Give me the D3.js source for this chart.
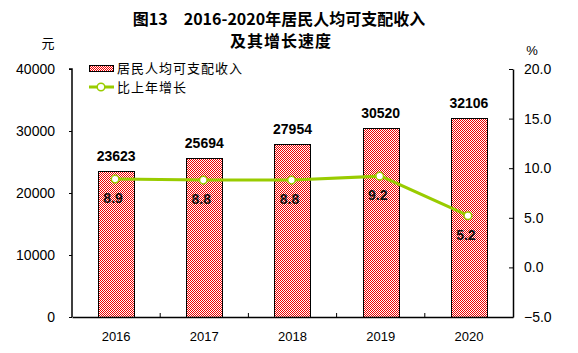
<!DOCTYPE html>
<html>
<head>
<meta charset="utf-8">
<script src="https://cdn.jsdelivr.net/npm/d3@7"></script>
<style>
  body { margin: 0; background: #fff; }
  text { font-family: Arial, "Liberation Sans", sans-serif; }
  .cjk { font-family: "Noto Sans CJK SC", sans-serif; }
</style>
</head>
<body>
<script>
const years = ["2016", "2017", "2018", "2019", "2020"];
const income = [23623, 25694, 27954, 30520, 32106];
const growth = [8.9, 8.8, 8.8, 9.2, 5.2];
const leftTicks = [0, 10000, 20000, 30000, 40000];
const rightTicks = [-5, 0, 5, 10, 15, 20];

const width = 578;
const height = 353;
const green = "#99cc00";

const svg = d3.select("body").append("svg")
  .attr("width", width)
  .attr("height", height);

// 1px red/white checker, as in the original
const defs = svg.append("defs");
const pat = defs.append("pattern")
  .attr("id", "check")
  .attr("width", 2).attr("height", 2)
  .attr("patternUnits", "userSpaceOnUse");
pat.append("rect").attr("width", 2).attr("height", 2).attr("fill", "#fff");
pat.append("rect").attr("width", 1).attr("height", 1).attr("fill", "#f00000");
pat.append("rect").attr("x", 1).attr("y", 1).attr("width", 1).attr("height", 1).attr("fill", "#f00000");

const x = d3.scaleBand().domain(years).range([72, 513]);
const yL = d3.scaleLinear().domain([0, 40000]).range([317, 69]);
const yR = d3.scaleLinear().domain([-5, 20]).range([317, 69]);
const barW = x.bandwidth() * 0.41;
const cx = (i) => x(years[i]) + x.bandwidth() / 2;

// title
svg.append("text").attr("class", "cjk")
  .attr("x", 279).attr("y", 25)
  .attr("text-anchor", "middle")
  .attr("font-size", 16).attr("font-weight", "bold")
  .text("图13　2016-2020年居民人均可支配收入");
svg.append("text").attr("class", "cjk")
  .attr("x", 281).attr("y", 47)
  .attr("text-anchor", "middle")
  .attr("font-size", 16).attr("font-weight", "bold")
  .attr("letter-spacing", 1)
  .text("及其增长速度");

svg.append("text").attr("class", "cjk")
  .attr("x", 48).attr("y", 48)
  .attr("text-anchor", "middle")
  .attr("font-size", 13)
  .text("元");
svg.append("text")
  .attr("x", 532).attr("y", 55)
  .attr("text-anchor", "middle")
  .attr("font-size", 13)
  .text("%");

// bars
svg.append("g")
  .selectAll("rect")
  .data(income)
  .join("rect")
  .attr("x", (d, i) => Math.round(cx(i) - barW / 2) + 0.5)
  .attr("y", (d) => Math.round(yL(d)) + 0.5)
  .attr("width", Math.round(barW))
  .attr("height", (d) => Math.round(yL(0)) - Math.round(yL(d)))
  .attr("fill", "url(#check)")
  .attr("stroke", "#000")
  .attr("stroke-width", 1);

svg.append("g")
  .selectAll("text")
  .data(income)
  .join("text")
  .attr("x", (d, i) => cx(i))
  .attr("y", (d) => yL(d) - 10)
  .attr("text-anchor", "middle")
  .attr("font-size", 14)
  .attr("font-weight", "bold")
  .attr("fill", "#000")
  .text((d) => d);

// axes
const axisL = svg.append("g")
  .attr("transform", "translate(72,0)")
  .call(d3.axisLeft(yL).tickValues(leftTicks).tickSize(3).tickPadding(14).tickFormat(d3.format("d")));
const axisR = svg.append("g")
  .attr("transform", "translate(513,0)")
  .call(d3.axisRight(yR).tickValues(rightTicks).tickSizeInner(-4).tickSizeOuter(0).tickPadding(11).tickFormat(d3.format(".1f")));
const axisB = svg.append("g")
  .attr("transform", "translate(0,317)")
  .call(d3.axisBottom(x).tickSize(0).tickPadding(15));

[axisL, axisR, axisB].forEach((g) => {
  g.select(".domain").attr("stroke", "#000").attr("stroke-width", 1.5);
  g.selectAll(".tick line").attr("stroke", "#000");
  g.selectAll(".tick text").attr("fill", "#000")
    .style("font-family", "Arial, 'Liberation Sans', sans-serif");
});
axisL.selectAll(".tick text").attr("font-size", 14);
axisR.selectAll(".tick text").attr("font-size", 14);
axisB.selectAll(".tick text").attr("font-size", 13);
axisL.select(".domain").attr("d", "M0,317V69H-3");

// inner ticks at category boundaries on the bottom axis
svg.append("g")
  .selectAll("line")
  .data(years.slice(1))
  .join("line")
  .attr("x1", (d) => x(d)).attr("x2", (d) => x(d))
  .attr("y1", 317).attr("y2", 313)
  .attr("stroke", "#000");

// growth line
const line = d3.line()
  .x((d, i) => cx(i))
  .y((d) => yR(d));

svg.append("path")
  .datum(growth)
  .attr("d", line)
  .attr("fill", "none")
  .attr("stroke", green)
  .attr("stroke-width", 3);

svg.append("g")
  .selectAll("circle")
  .data(growth)
  .join("circle")
  .attr("cx", (d, i) => cx(i) - 1)
  .attr("cy", (d) => yR(d))
  .attr("r", 3.8)
  .attr("fill", "#fff")
  .attr("stroke", green)
  .attr("stroke-width", 1.5);

svg.append("g")
  .selectAll("text")
  .data(growth)
  .join("text")
  .attr("x", (d, i) => cx(i) - 3)
  .attr("y", (d) => yR(d) + 24)
  .attr("text-anchor", "middle")
  .attr("font-size", 14)
  .attr("font-weight", "bold")
  .attr("fill", "#111")
  .text((d) => d.toFixed(1));

// legend
const legend = svg.append("g");
legend.append("rect")
  .attr("x", 89.5).attr("y", 65.5)
  .attr("width", 24).attr("height", 6)
  .attr("fill", "url(#check)")
  .attr("stroke", "#000");
legend.append("text").attr("class", "cjk")
  .attr("x", 117).attr("y", 73)
  .attr("font-size", 13)
  .attr("letter-spacing", 1)
  .text("居民人均可支配收入");
legend.append("line")
  .attr("x1", 89).attr("x2", 114)
  .attr("y1", 87).attr("y2", 87)
  .attr("stroke", green).attr("stroke-width", 3);
legend.append("circle")
  .attr("cx", 101).attr("cy", 87).attr("r", 3.8)
  .attr("fill", "#fff").attr("stroke", green).attr("stroke-width", 1.5);
legend.append("text").attr("class", "cjk")
  .attr("x", 117).attr("y", 91.5)
  .attr("font-size", 13)
  .attr("letter-spacing", 1)
  .text("比上年增长");
</script>
</body>
</html>
